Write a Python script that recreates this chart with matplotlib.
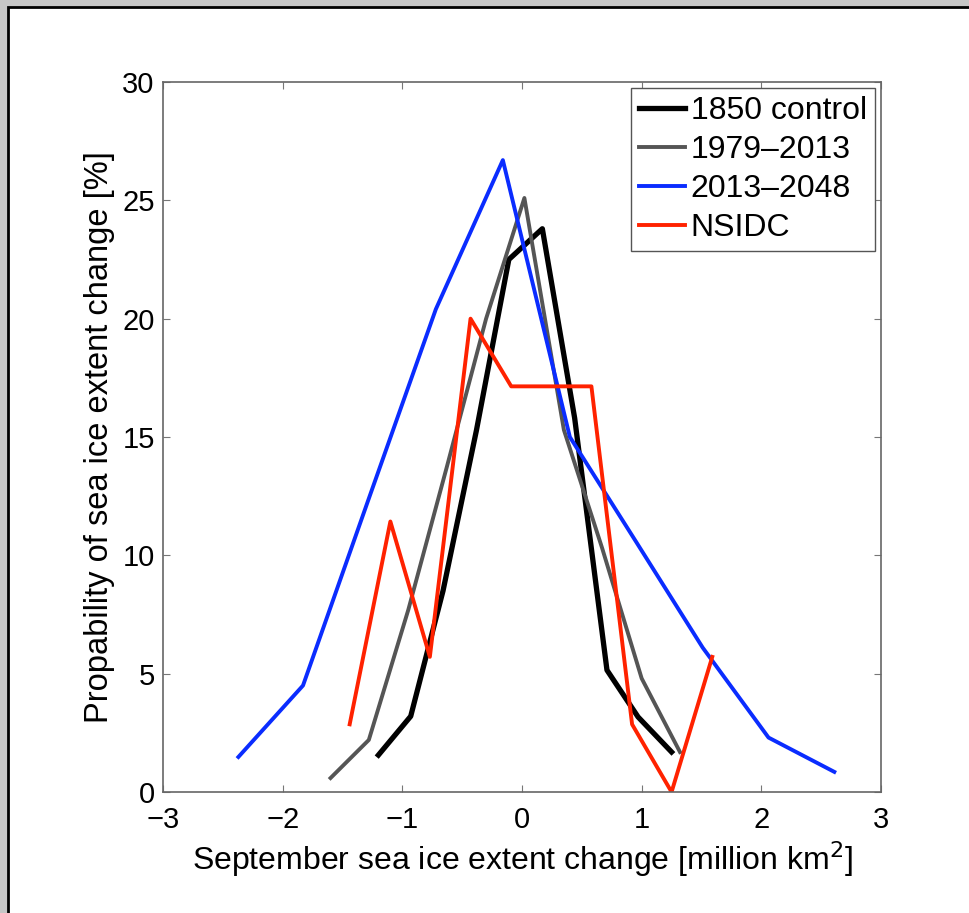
import matplotlib
matplotlib.use("Agg")
import matplotlib.pyplot as plt
from matplotlib.patches import Rectangle

plt.rcParams['font.family'] = ['Liberation Sans', 'DejaVu Sans']

# x positions (bin centres) and probabilities [%]
x_control = [-1.20, -0.93, -0.66, -0.38, -0.11, 0.17, 0.44, 0.71, 0.97, 1.25]
p_control = [1.56, 3.2, 8.5, 15.3, 22.5, 23.8, 15.8, 5.15, 3.17, 1.69]

x_hist = [-1.60, -1.28, -0.95, -0.63, -0.30, 0.02, 0.35, 0.67, 1.00, 1.32]
p_hist = [0.59, 2.2, 7.7, 13.7, 20.0, 25.1, 15.3, 10.3, 4.8, 1.69]

x_future = [-2.37, -1.83, -1.28, -0.72, -0.16, 0.40, 0.95, 1.51, 2.06, 2.61]
p_future = [1.48, 4.5, 12.4, 20.4, 26.7, 15.0, 10.6, 6.1, 2.3, 0.85]

x_nsidc = [-1.44, -1.10, -0.77, -0.43, -0.09, 0.25, 0.58, 0.92, 1.25, 1.59]
p_nsidc = [2.86, 11.43, 5.71, 20.0, 17.14, 17.14, 17.14, 2.86, 0.0, 5.71]

labels = ['1850 control', '1979\u20132013', '2013\u20132048', 'NSIDC']

fig = plt.figure(figsize=(9.70, 9.13), dpi=100)
fig.patch.set_facecolor('#c6c6c6')
# white panel with black border (behind the axes)
fig.patches.append(Rectangle((8 / 970, -0.05), 1.1, 1 - 7 / 913 + 0.05,
                             transform=fig.transFigure, facecolor='white',
                             edgecolor='black', linewidth=2, zorder=-10))

ax = fig.add_axes([163 / 970, 1 - 792 / 913, 718 / 970, 710 / 913])
ax.set_zorder(5)
ax.plot(x_control, p_control, color='black', lw=3.8, label=labels[0])
ax.plot(x_hist, p_hist, color='#555555', lw=2.8, label=labels[1])
ax.plot(x_future, p_future, color='#0a2cff', lw=2.8, label=labels[2])
ax.plot(x_nsidc, p_nsidc, color='#ff2200', lw=2.8, label=labels[3])

ax.set_xlim(-3, 3)
ax.set_ylim(0, 30)
ax.set_xticks(range(-3, 4))
ax.set_yticks(range(0, 31, 5))
ax.tick_params(direction='in', top=True, right=True, length=5, width=0.8,
               colors='#777777', labelcolor='black', labelsize=21)
ax.tick_params(axis='x', pad=10)
ax.tick_params(axis='y', pad=6)
for s in ax.spines.values():
    s.set_color('#666666')
    s.set_linewidth(1.2)

ax.set_xlabel('September sea ice extent change [million km$^2$]', fontsize=23, labelpad=4)
ax.set_ylabel('Propability of sea ice extent change [%]', fontsize=23.5, labelpad=5)

leg = ax.legend(loc='upper right', bbox_to_anchor=(0.9916, 0.9915), borderaxespad=0,
                fontsize=23, handlelength=1.45, handletextpad=0.18, labelspacing=0.28,
                borderpad=0.25, fancybox=False, framealpha=1, edgecolor='#555555')
leg.get_frame().set_linewidth(1.0)

fig.savefig('out.png', dpi=100, facecolor=fig.get_facecolor())
